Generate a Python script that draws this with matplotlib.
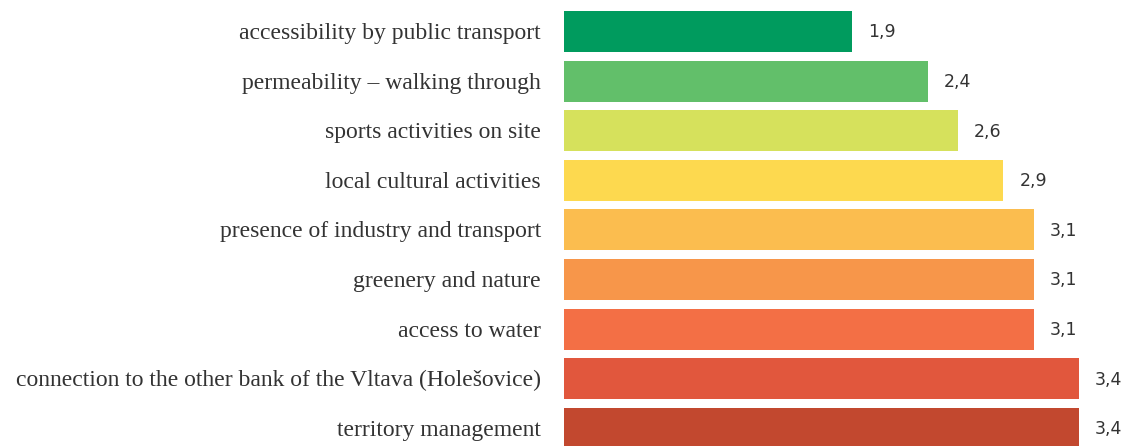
import matplotlib
matplotlib.use("Agg")
import matplotlib.pyplot as plt

# data
labels = [
    "accessibility by public transport",
    "permeability – walking through",
    "sports activities on site",
    "local cultural activities",
    "presence of industry and transport",
    "greenery and nature",
    "access to water",
    "connection to the other bank of the Vltava (Holešovice)",
    "territory management",
]
values = [1.9, 2.4, 2.6, 2.9, 3.1, 3.1, 3.1, 3.4, 3.4]
colors = ["#009b5e", "#62bf6a", "#d6e15c", "#fdd94f", "#fbbd4f",
          "#f7964a", "#f36f45", "#e1573d", "#c2482f"]

fig = plt.figure(figsize=(11.26, 4.46), dpi=100)
ax = fig.add_axes([564 / 1126, 0, 1 - 564 / 1126, 1])

y = list(range(len(values)))
ax.barh(y, values, height=0.83, color=colors)
ax.set_xlim(0, 562 / 151.5)
ax.set_ylim(446 / 49.6 - 31.5 / 49.6, -31.5 / 49.6)

for i, (lab, v) in enumerate(zip(labels, values)):
    ax.text(-0.152, i + 0.04, lab, ha="right", va="center", fontsize=17,
            family="Liberation Serif", color="#333333")
    ax.text(v + 0.105, i + 0.02, f"{v:.1f}".replace(".", ","), ha="left", va="center",
            fontsize=12.5, family="DejaVu Sans", color="#333333")

ax.axis("off")
fig.savefig("out.png", dpi=100)
